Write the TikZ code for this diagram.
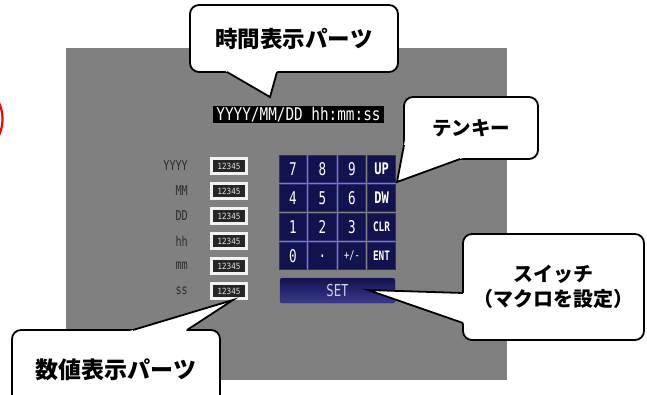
\documentclass[tikz,border=0pt]{standalone}
\usepackage{fontspec}
\newfontfamily\jp{Noto Sans CJK JP}
\newfontfamily\monoc{DejaVu Sans Mono}[FakeStretch=0.75]
\newfontfamily\timef{DejaVu Sans Mono}[FakeStretch=0.82]
\newfontfamily\keyf{DejaVu Sans Mono}[FakeStretch=0.72]
\newfontfamily\sansf{DejaVu Sans}[FakeStretch=0.85]
\usetikzlibrary{calc}
\definecolor{panel}{HTML}{808080}
\definecolor{navy}{HTML}{12124F}
\definecolor{navyline}{HTML}{2E2E72}
\definecolor{navylow}{HTML}{3A3A8E}
\definecolor{labelgray}{HTML}{2C2C2C}
\definecolor{settext}{HTML}{CFD0E8}
\newcommand\callptr[3]{%
  \fill[white] ($(#2)!1.15!(#1)$) -- (#2) -- ($(#2)!1.15!(#3)$) -- cycle;
  \draw[ptr] (#1) -- (#2) -- (#3);}
\begin{document}
\begin{tikzpicture}[x=1pt,y=-1pt,
  callout/.style={draw=black, line width=1.8pt, fill=white, rounded corners=9pt, align=center, inner sep=0},
  ptr/.style={draw=black, line width=1.8pt},
  keycell/.style={fill=navy, draw=navyline, line width=1pt, minimum width=27.5pt, minimum height=27.5pt, inner sep=0, text=white, font=\keyf\fontsize{17.5}{17.5}\selectfont},
  numbox/.style={fill=black!85, draw=white!95!black, line width=3pt, minimum width=35pt, minimum height=15pt, inner sep=0, text=white!90!black, font=\sansf\fontsize{8.5}{8.5}\selectfont},
  lbl/.style={anchor=east, inner sep=0, text=labelgray, font=\monoc\fontsize{13.5}{13.5}\selectfont}
]
\useasboundingbox (0,0) rectangle (647,394);
\clip (0,0) rectangle (647,394);
\fill[white] (0,0) rectangle (647,394);
\node[fill=panel, minimum width=441pt, minimum height=332pt, inner sep=0, anchor=north west] (panel) at (66,48) {};
\draw[red, line width=2.2pt] (-37.5,119) circle[radius=40pt];

% time display
\node[fill=black, text=white, minimum width=171pt, minimum height=17pt, inner sep=0, font=\timef\fontsize{17.5}{17.5}\selectfont] (timetxt) at (298.5,114.5) {YYYY/MM/DD hh:mm:ss};

% labels and numeric boxes
\node[lbl] (lY) at (188,166) {YYYY};
\node[lbl] (lM) at (188,191) {MM};
\node[lbl] (lD) at (188,216) {DD};
\node[lbl] (lh) at (188,241) {hh};
\node[lbl] (lm) at (188,266) {mm};
\node[lbl] (ls) at (188,291) {ss};
\node[numbox] (b1) at (229,166) {12345};
\node[numbox] (b2) at (229,191) {12345};
\node[numbox] (b3) at (229,216) {12345};
\node[numbox] (b4) at (229,241) {12345};
\node[numbox] (b5) at (229,266) {12345};
\node[numbox] (b6) at (229,291) {12345};

% keypad
\node[keycell] (k7) at (293,169) {7};
\node[keycell] (k8) at (322.5,169) {8};
\node[keycell] (k9) at (352,169) {9};
\node[keycell, font=\monoc\bfseries\fontsize{16}{16}\selectfont] (kUP) at (381.5,169) {UP};
\node[keycell] (k4) at (293,198) {4};
\node[keycell] (k5) at (322.5,198) {5};
\node[keycell] (k6) at (352,198) {6};
\node[keycell, font=\monoc\bfseries\fontsize{16}{16}\selectfont] (kDW) at (381.5,198) {DW};
\node[keycell] (k1) at (293,227) {1};
\node[keycell] (k2) at (322.5,227) {2};
\node[keycell] (k3) at (352,227) {3};
\node[keycell, font=\keyf\bfseries\fontsize{13}{13}\selectfont] (kCLR) at (381.5,227) {CLR};
\node[keycell] (k0) at (293,256) {0};
\node[keycell] (kdot) at (322.5,256) {.};
\node[keycell, font=\keyf\fontsize{12}{12}\selectfont] (kpm) at (352,256) {+/-};
\node[keycell, font=\keyf\bfseries\fontsize{13}{13}\selectfont] (kENT) at (381.5,256) {ENT};
\node[top color=navy, bottom color=navylow, draw=navyline, rounded corners=2pt, minimum width=115pt, minimum height=25pt, inner sep=0, text=settext, font=\monoc\fontsize{16.5}{16.5}\selectfont] (set) at (337.5,290.5) {SET};

% callouts
\node[callout, minimum width=208pt, minimum height=67pt, font=\jp\bfseries\fontsize{22.5}{22.5}\selectfont] (timeC) at (294,38.5) {時間表示パーツ};
\node[callout, minimum width=134pt, minimum height=62pt, font=\jp\bfseries\fontsize{19.5}{19.5}\selectfont] (keyC) at (471,128) {テンキー};
\node[callout, minimum width=181pt, minimum height=106pt, font=\jp\bfseries\fontsize{20}{25}\selectfont] (swC) at (553.5,287) {スイッチ\\（マクロを設定）};
\node[callout, minimum width=208pt, minimum height=80pt, font=\jp\bfseries\fontsize{23}{23}\selectfont] (numC) at (116,370) {数値表示パーツ};

% pointers
\coordinate (tA1) at (227,72); \coordinate (tTip) at (270,97); \coordinate (tA2) at (277,72);
\callptr{tA1}{tTip}{tA2}
\coordinate (kA1) at (404,145); \coordinate (kTip) at (397,182); \coordinate (kA2) at (460,159);
\callptr{kA1}{kTip}{kA2}
\coordinate (sA1) at (463,293); \coordinate (sTip) at (368,290); \coordinate (sA2) at (463,323);
\callptr{sA1}{sTip}{sA2}
\coordinate (nA1) at (133,330); \coordinate (nTip) at (233,300); \coordinate (nA2) at (187,330);
\callptr{nA1}{nTip}{nA2}
\end{tikzpicture}
\end{document}
